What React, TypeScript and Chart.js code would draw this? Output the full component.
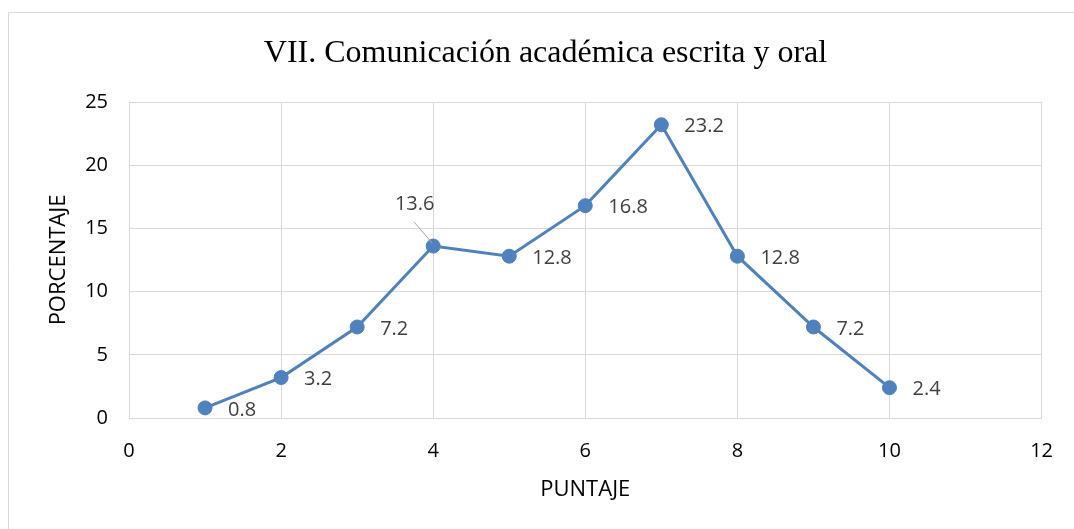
import React, { useEffect, useRef } from "react";
import { Chart, registerables } from "chart.js";

Chart.register(...registerables);

const chartTitle = "VII. Comunicación académica escrita y oral";
const xAxisTitle = "PUNTAJE";
const yAxisTitle = "PORCENTAJE";
const puntaje = [1, 2, 3, 4, 5, 6, 7, 8, 9, 10];
const porcentaje = [0.8, 3.2, 7.2, 13.6, 12.8, 16.8, 23.2, 12.8, 7.2, 2.4];
const xMin = 0;
const xMax = 12;
const xStep = 2;
const yMin = 0;
const yMax = 25;
const yStep = 5;

const LINE_COLOR = "#4F81BD";
const GRID_COLOR = "#D9D9D9";
const SANS = '"Open Sans", "Noto Sans", sans-serif';

const framePlugin = {
  id: "frame",
  beforeDraw(chart: any) {
    const { ctx, width, height } = chart;
    ctx.save();
    ctx.fillStyle = "#ffffff";
    ctx.fillRect(0, 0, width, height);
    ctx.strokeStyle = GRID_COLOR;
    ctx.lineWidth = 1;
    ctx.beginPath();
    ctx.moveTo(8.5, height);
    ctx.lineTo(8.5, 12.5);
    ctx.lineTo(width, 12.5);
    ctx.stroke();
    ctx.restore();
  },
  afterDraw(chart: any) {
    const { ctx } = chart;
    ctx.save();
    ctx.font = '32px "Liberation Serif", "Times New Roman", serif';
    ctx.fillStyle = "#000000";
    ctx.textAlign = "center";
    ctx.textBaseline = "alphabetic";
    ctx.fillText(chartTitle, 545.5, 62);
    ctx.restore();
  },
};

const labelPlugin = {
  id: "pointLabels",
  afterDatasetsDraw(chart: any) {
    const meta = chart.getDatasetMeta(0);
    const { ctx } = chart;
    ctx.save();
    ctx.font = "20px " + SANS;
    ctx.fillStyle = "#404040";
    ctx.textBaseline = "middle";
    meta.data.forEach((pt: any, i: number) => {
      const txt = String(porcentaje[i]);
      if (i === 3) {
        ctx.strokeStyle = "#A6A6A6";
        ctx.lineWidth = 1;
        ctx.beginPath();
        ctx.moveTo(pt.x - 19, pt.y - 24);
        ctx.lineTo(pt.x - 1, pt.y - 3);
        ctx.stroke();
        ctx.textAlign = "center";
        ctx.fillText(txt, pt.x - 18.5, pt.y - 41.5);
      } else {
        ctx.textAlign = "left";
        ctx.fillText(txt, pt.x + 23, pt.y + 2);
      }
    });
    ctx.restore();
  },
};

export default function App() {
  const canvasRef = useRef<HTMLCanvasElement | null>(null);

  useEffect(() => {
    document.body.style.margin = "0";
    const canvas = canvasRef.current;
    if (!canvas) return;
    const chart = new Chart(canvas, {
      type: "scatter",
      data: {
        datasets: [
          {
            label: "Porcentaje",
            data: puntaje.map((x, i) => ({ x, y: porcentaje[i] })),
            showLine: true,
            borderColor: LINE_COLOR,
            backgroundColor: LINE_COLOR,
            borderWidth: 3,
            pointRadius: 7,
            pointBorderWidth: 1,
            pointBorderColor: LINE_COLOR,
            pointBackgroundColor: LINE_COLOR,
            tension: 0,
          },
        ],
      },
      options: {
        responsive: false,
        animation: false,
        devicePixelRatio: 1,
        layout: { padding: { left: 0, right: 31, top: 102, bottom: 0 } },
        plugins: {
          legend: { display: false },
          title: { display: false },
          tooltip: { enabled: false },
        },
        scales: {
          x: {
            type: "linear",
            min: xMin,
            max: xMax,
            afterFit: (s: any) => {
              s.height = 111;
            },
            ticks: {
              stepSize: xStep,
              padding: 21,
              color: "#000000",
              font: { family: SANS, size: 20 },
            },
            grid: { color: GRID_COLOR, lineWidth: 1, drawTicks: false },
            border: { color: GRID_COLOR, width: 1 },
            title: {
              display: true,
              text: xAxisTitle,
              color: "#000000",
              font: { family: SANS, size: 22 },
              padding: { top: 0, bottom: 26 },
            },
          },
          y: {
            type: "linear",
            min: yMin,
            max: yMax,
            afterFit: (s: any) => {
              s.width = 129;
            },
            ticks: {
              stepSize: yStep,
              padding: 21,
              color: "#000000",
              font: { family: SANS, size: 20 },
            },
            grid: { color: GRID_COLOR, lineWidth: 1, drawTicks: false },
            border: { color: GRID_COLOR, width: 1 },
            title: {
              display: true,
              text: yAxisTitle,
              color: "#000000",
              font: { family: SANS, size: 22 },
              padding: { top: 46, bottom: 0 },
            },
          },
        },
      },
      plugins: [framePlugin, labelPlugin],
    });
    return () => chart.destroy();
  }, []);

  return (
    <div style={{ position: "fixed", left: 0, top: 0, width: 1074, height: 529 }}>
      <canvas ref={canvasRef} width={1074} height={529} />
    </div>
  );
}
